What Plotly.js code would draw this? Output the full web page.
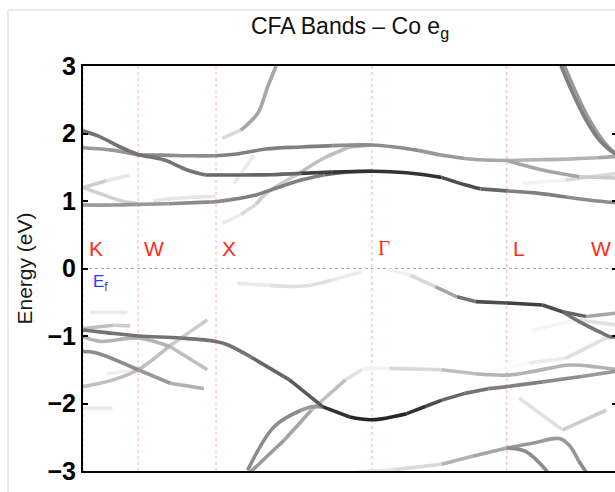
<!DOCTYPE html>
<html>
<head>
<meta charset="utf-8">
<script src="https://cdn.plot.ly/plotly-3.0.1.min.js"></script>
<style>
  html, body { margin: 0; padding: 0; background: #fff; overflow: hidden; }
  #chart { width: 618px; height: 492px; }
</style>
</head>
<body>
<div id="chart"></div>
<script>
// High-symmetry points along the k-path (units of 2*pi/a) and their labels
const symK = [0, 0.3536, 0.8536, 1.8536, 2.7196, 3.4267];
const symLabels = ['K', 'W', 'X', '\u0393', 'L', 'W'];
const yTicks = [-3, -2, -1, 0, 1, 2, 3];

// Bands: k position, energy (eV) and Co e_g weight (0 = none, 1 = full)
const bandA = {
  k: [0, 0.11, 0.239, 0.3536, 0.518, 0.669, 0.787, 0.8536, 1.0, 1.2, 1.4, 1.6, 1.8536, 2.0, 2.15, 2.3, 2.45, 2.55, 2.7196, 2.9, 3.1, 3.3, 3.4267],
  e: [2.04, 1.95, 1.80, 1.69, 1.61, 1.46, 1.385, 1.385, 1.385, 1.39, 1.41, 1.43, 1.44, 1.43, 1.40, 1.35, 1.24, 1.18, 1.15, 1.12, 1.06, 1.00, 0.975],
  w: [0.55, 0.55, 0.55, 0.55, 0.55, 0.55, 0.6, 0.6, 0.6, 0.6, 0.75, 0.8, 0.8, 0.8, 0.8, 0.7, 0.7, 0.6, 0.5, 0.5, 0.45, 0.45, 0.45]
};
const bandB = {
  k: [0, 0.2, 0.3536, 0.5, 0.7, 0.8536, 1.0, 1.174, 1.4, 1.6, 1.8536, 2.0, 2.15, 2.3, 2.45, 2.55, 2.7196, 2.9, 3.1, 3.3, 3.4267],
  e: [1.79, 1.75, 1.68, 1.68, 1.67, 1.67, 1.70, 1.77, 1.80, 1.82, 1.83, 1.80, 1.75, 1.68, 1.63, 1.61, 1.60, 1.61, 1.62, 1.64, 1.66],
  w: [0.4, 0.4, 0.45, 0.45, 0.45, 0.5, 0.5, 0.5, 0.5, 0.45, 0.45, 0.45, 0.4, 0.4, 0.35, 0.35, 0.3, 0.3, 0.3, 0.35, 0.35]
};
const bandD = {
  k: [0, 0.2, 0.3536, 0.55, 0.75, 0.8536, 0.95, 1.11, 1.25, 1.4, 1.55, 1.7, 1.8536],
  e: [0.94, 0.94, 0.95, 0.96, 0.98, 0.99, 1.02, 1.09, 1.2, 1.31, 1.39, 1.43, 1.44],
  w: [0.4, 0.4, 0.4, 0.45, 0.45, 0.45, 0.5, 0.5, 0.5, 0.5, 0.6, 0.6, 0.6]
};
const bandC = {
  k: [0.895, 1.013, 1.11, 1.174, 1.387, 1.542, 1.71, 1.8536],
  e: [0.67, 0.80, 0.95, 1.11, 1.41, 1.63, 1.80, 1.83],
  w: [0.08, 0.15, 0.2, 0.2, 0.25, 0.25, 0.3, 0.3]
};
const bandT = {
  k: [0.895, 1.013, 1.121, 1.185, 1.239],
  e: [1.93, 2.05, 2.30, 2.69, 3.0],
  w: [0.15, 0.35, 0.35, 0.35, 0.35]
};
const bandS1 = {
  k: [3.066, 3.142, 3.228, 3.314, 3.4, 3.4267],
  e: [3.01, 2.60, 2.20, 1.90, 1.72, 1.68],
  w: 0.5
};
const bandS2 = {
  k: [3.088, 3.165, 3.25, 3.335, 3.41, 3.4267],
  e: [3.01, 2.60, 2.20, 1.90, 1.72, 1.70],
  w: 0.4
};
const bandF1 = { k: [0, 0.15, 0.30], e: [1.2, 1.3, 1.38], w: [0.2, 0.1, 0.1] };
const bandF2 = { k: [0, 0.12, 0.25, 0.3536], e: [1.2, 1.1, 1.0, 0.96], w: 0.18 };
const bandF3 = { k: [0.45, 0.6, 0.75, 0.85], e: [1.0, 1.04, 1.06, 1.07], w: 0.1 };
const bandF4 = { k: [0.968, 1.097], e: [1.26, 1.68], w: 0.08 };
const bandG1 = { k: [2.7196, 2.948, 3.185, 3.4267], e: [1.60, 1.46, 1.36, 1.34], w: [0.35, 0.35, 0.2, 0.15] };
const bandG2 = { k: [2.819, 3.097, 3.4267], e: [1.26, 1.31, 1.41], w: [0.05, 0.15, 0.2] };

const bandV1 = {
  k: [0, 0.15, 0.3536, 0.626, 0.8536, 0.927, 1.077, 1.325, 1.54, 1.712, 1.8536, 2.077, 2.2, 2.303, 2.45, 2.6, 2.7196, 2.95, 3.2, 3.4267],
  e: [-0.91, -0.95, -1.0, -1.03, -1.08, -1.13, -1.31, -1.65, -2.05, -2.20, -2.24, -2.15, -2.04, -1.95, -1.85, -1.78, -1.75, -1.68, -1.60, -1.52],
  w: [0.55, 0.55, 0.55, 0.55, 0.55, 0.55, 0.6, 0.65, 0.8, 0.85, 0.85, 0.8, 0.7, 0.6, 0.55, 0.5, 0.5, 0.45, 0.4, 0.4]
};
const bandV0 = {
  k: [1.968, 2.1, 2.26, 2.4, 2.518, 2.7196, 2.948, 3.077, 3.228, 3.4267],
  e: [-0.02, -0.10, -0.27, -0.42, -0.49, -0.51, -0.54, -0.64, -0.71, -0.66],
  w: [0.05, 0.15, 0.35, 0.55, 0.7, 0.75, 0.7, 0.6, 0.35, 0.15]
};
const bandV0b = { k: [3.077, 3.187, 3.316, 3.381, 3.4267], e: [-0.64, -0.79, -0.94, -1.01, -1.01], w: 0.55 };
const bandV0c = { k: [2.884, 3.174, 3.4267], e: [-0.91, -0.76, -0.84], w: [0.04, 0.12, 0.15] };
const bandP = { k: [0.99, 1.2, 1.42, 1.6, 1.79], e: [-0.22, -0.25, -0.26, -0.17, -0.05], w: [0.08, 0.12, 0.12, 0.08, 0.03] };

const bandL1 = { k: [0, 0.11, 0.3536, 0.561, 0.798], e: [-1.01, -1.08, -1.03, -1.16, -1.50], w: [0.3, 0.3, 0.3, 0.25, 0.08] };
const bandL2 = { k: [0, 0.086, 0.3536, 0.561, 0.776], e: [-1.23, -1.25, -1.50, -1.70, -1.78], w: [0.45, 0.45, 0.4, 0.3, 0.1] };
const bandL3 = { k: [0, 0.194, 0.3536, 0.548, 0.798], e: [-1.75, -1.65, -1.50, -1.16, -0.76], w: [0.25, 0.25, 0.25, 0.2, 0.08] };
const bandL4 = { k: [0.045, 0.284], e: [-0.65, -0.65], w: 0.08 };
const bandL5 = { k: [0, 0.196, 0.303], e: [-0.89, -0.84, -0.85], w: [0.25, 0.2, 0.08] };
const bandL6 = { k: [0.15, 0.3536], e: [-1.56, -1.50], w: 0.06 };
const bandL7 = { k: [0, 0.19], e: [-2.07, -2.07], w: 0.08 };

const bandM1 = { k: [1.056, 1.228, 1.4, 1.465, 1.54], e: [-2.99, -2.34, -2.10, -2.05, -2.05], w: [0.45, 0.45, 0.4, 0.4, 0.4] };
const bandM2 = {
  k: [1.077, 1.292, 1.465, 1.684, 1.79, 1.8536, 1.968, 2.3, 2.52, 2.7196, 2.9, 3.123, 3.3, 3.4267],
  e: [-3.01, -2.54, -2.10, -1.65, -1.50, -1.48, -1.48, -1.50, -1.56, -1.58, -1.52, -1.43, -1.46, -1.50],
  w: [0.4, 0.35, 0.25, 0.12, 0.05, 0.05, 0.15, 0.25, 0.3, 0.3, 0.3, 0.3, 0.3, 0.3]
};
const bandV3 = { k: [2.5, 2.86, 3.097, 3.355, 3.4267], e: [-1.58, -1.40, -1.33, -1.03, -1.0], w: [0.02, 0.08, 0.12, 0.15, 0.15] };
const bandVv = { k: [2.798, 3.077, 3.357], e: [-1.92, -2.39, -2.10], w: [0.12, 0.2, 0.1] };
const bandN1 = {
  k: [1.75, 2.0, 2.3, 2.5, 2.7196, 2.9, 3.056, 3.12, 3.18, 3.23],
  e: [-3.02, -2.98, -2.90, -2.78, -2.66, -2.58, -2.52, -2.62, -2.85, -3.02],
  w: [0.1, 0.15, 0.3, 0.35, 0.4, 0.4, 0.4, 0.4, 0.45, 0.45]
};
const bandN2 = { k: [2.7196, 2.84, 2.98], e: [-2.66, -2.71, -3.01], w: 0.45 };

const bands = [bandA, bandB, bandD, bandC, bandT, bandS1, bandS2, bandF1, bandF2, bandF3, bandF4,
  bandG1, bandG2, bandV1, bandV0, bandV0b, bandV0c, bandP, bandL1, bandL2, bandL3, bandL4,
  bandL5, bandL6, bandL7, bandM1, bandM2, bandV3, bandVv, bandN1, bandN2];

// weight -> gray shade
function shade(w) {
  const g = Math.round(255 * (1 - w));
  return 'rgb(' + g + ',' + g + ',' + g + ')';
}

// Split each band into runs of equal weight; each run is a smooth curve
const pieces = [];
bands.forEach(b => {
  const n = b.k.length;
  const wt = Array.isArray(b.w) ? b.w : b.k.map(() => b.w);
  let s = 0;
  for (let i = 1; i <= n; i++) {
    if (i === n || wt[i] !== wt[s]) {
      const end = Math.min(i, n - 1);
      if (end > s) pieces.push({ k: b.k.slice(s, end + 1), e: b.e.slice(s, end + 1), w: wt[s] });
      s = i;
    }
  }
});
pieces.sort((a, b) => a.w - b.w);

const traces = pieces.map(p => ({
  type: 'scatter', mode: 'lines',
  x: p.k, y: p.e,
  line: { color: shade(p.w), width: 3.6, shape: 'spline', smoothing: 1 },
  hoverinfo: 'skip', showlegend: false
}));

const shapes = [];
// outer frame
shapes.push({
  type: 'rect', xref: 'paper', yref: 'paper',
  x0: (8 - 83) / 534, x1: 1.3, y0: -0.3, y1: 1 + 56 / 405,
  line: { color: '#d4d4d4', width: 1 }, layer: 'below'
});
// high-symmetry lines
symK.forEach(k => shapes.push({
  type: 'line', xref: 'x', yref: 'y', x0: k, x1: k, y0: -3, y1: 3,
  line: { color: 'rgba(240,120,120,0.6)', width: 1, dash: 'dot' }, layer: 'below'
}));
// Fermi level
shapes.push({
  type: 'line', xref: 'x', yref: 'y', x0: 0, x1: symK[symK.length - 1], y0: 0, y1: 0,
  line: { color: 'rgba(120,120,255,0.7)', width: 1, dash: 'dot' }, layer: 'below'
});

const annotations = symLabels.map((t, i) => {
  const last = i === symLabels.length - 1;
  return {
    x: symK[i], y: 0.3, xref: 'x', yref: 'y', text: t, showarrow: false,
    xanchor: last ? 'right' : 'left', yanchor: 'middle', xshift: last ? -4 : 4,
    font: { family: t === '\u0393' ? 'Liberation Serif' : 'Liberation Sans', size: 21, color: '#ff2a1a' }
  };
});
annotations.push({
  x: 0, y: -0.22, xref: 'x', yref: 'y', text: 'E<sub>f</sub>', showarrow: false,
  xanchor: 'left', yanchor: 'middle', xshift: 8,
  font: { family: 'Liberation Sans', size: 17, color: '#2a3cff' }
});
annotations.push({
  x: (24 - 83) / 534, y: 0.5, xref: 'paper', yref: 'paper', text: 'Energy (eV)',
  showarrow: false, textangle: -90, xanchor: 'center', yanchor: 'middle',
  font: { family: 'Liberation Sans', size: 21, color: '#1a1a1a' }
});

const layout = {
  width: 618, height: 492,
  margin: { l: 83, r: 1, t: 66, b: 21, pad: 0 },
  paper_bgcolor: '#fff', plot_bgcolor: '#fff',
  title: {
    text: 'CFA Bands \u2013 Co e<sub>g</sub>',
    font: { family: 'Liberation Sans', size: 23, color: '#111' },
    x: 0.5, xref: 'paper', xanchor: 'center',
    y: 1 - 26 / 492, yref: 'container', yanchor: 'middle'
  },
  xaxis: {
    range: [0, symK[symK.length - 1]], showgrid: false, zeroline: false,
    showline: true, linecolor: '#000', linewidth: 2, mirror: true,
    ticks: '', showticklabels: false, fixedrange: true
  },
  yaxis: {
    range: [-3, 3], tickvals: yTicks, showgrid: false, zeroline: false,
    showline: true, linecolor: '#000', linewidth: 2, mirror: 'ticks',
    ticks: 'inside', ticklen: 5, tickwidth: 2, tickcolor: '#000',
    tickfont: { family: 'Liberation Sans', size: 25, color: '#000', weight: 'bold' },
    fixedrange: true
  },
  shapes: shapes,
  annotations: annotations
};

Plotly.newPlot('chart', traces, layout, { staticPlot: true, displayModeBar: false });
</script>
</body>
</html>
